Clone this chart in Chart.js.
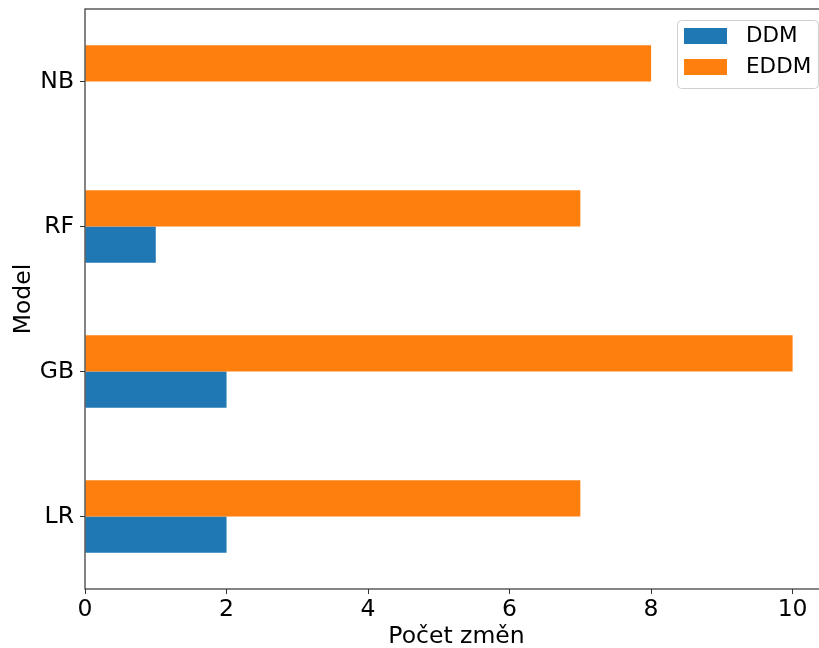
<!DOCTYPE html>
<html>
<head>
<meta charset="utf-8">
<script src="https://cdn.jsdelivr.net/npm/chart.js@4"></script>
<style>
  html, body { margin: 0; padding: 0; overflow: hidden; background: #fff; }
</style>
</head>
<body>
<canvas id="chart" width="840" height="648"></canvas>
<script>
// categories in pandas order (first one is drawn at the bottom)
const models = ["LR", "GB", "RF", "NB"];
const ddmCounts = [2, 2, 1, 0];
const eddmCounts = [7, 10, 7, 8];
const xTicks = [0, 2, 4, 6, 8, 10];

const FONT = "'DejaVu Sans', sans-serif";
const FSIZE = 23.5;

// draws the frame round the plot and the legend box inside it
const framePlugin = {
  id: "frame",
  afterDraw(chart) {
    const ctx = chart.ctx;
    const a = chart.chartArea;
    ctx.save();
    ctx.strokeStyle = "#333";
    ctx.lineWidth = 1.2;
    ctx.strokeRect(a.left, a.top, a.right - a.left, a.bottom - a.top);

    // legend
    const boxW = 141, boxH = 68;
    const bx = a.right - 10 - boxW, by = a.top + 11;
    ctx.fillStyle = "rgba(255,255,255,0.8)";
    ctx.strokeStyle = "#d0d0d0";
    ctx.lineWidth = 1;
    ctx.beginPath();
    ctx.roundRect(bx + 0.5, by + 0.5, boxW, boxH, 4);
    ctx.fill();
    ctx.stroke();
    ctx.font = "21.5px " + FONT;
    ctx.textBaseline = "middle";
    chart.data.datasets.forEach((ds, i) => {
      const y = by + 8 + i * 31;
      ctx.fillStyle = ds.backgroundColor;
      ctx.fillRect(bx + 7, y, 43, 16);
      ctx.fillStyle = "#000";
      ctx.fillText(ds.label, bx + 69, y + 8);
    });
    ctx.restore();
  }
};

new Chart(document.getElementById("chart"), {
  type: "bar",
  data: {
    labels: models,
    datasets: [
      { label: "DDM", data: ddmCounts, backgroundColor: "#1f77b4", order: 1 },
      { label: "EDDM", data: eddmCounts, backgroundColor: "#ff7f0e", order: 0 }
    ]
  },
  options: {
    indexAxis: "y",
    responsive: false,
    animation: false,
    categoryPercentage: 0.5,
    barPercentage: 1.0,
    layout: { padding: { top: 9, right: 12, left: 0, bottom: 0 } },
    plugins: {
      legend: { display: false },
      tooltip: { enabled: false }
    },
    scales: {
      x: {
        type: "linear",
        min: 0,
        max: 10.5,
        afterFit: s => { s.height = 59; s.paddingLeft = 0; s.paddingRight = 0; },
        afterBuildTicks: s => { s.ticks = xTicks.map(v => ({ value: v })); },
        ticks: { font: { family: FONT, size: FSIZE }, color: "#000", padding: 2, includeBounds: false },
        grid: { display: true, drawOnChartArea: false, drawTicks: true, tickLength: 5, color: "#333" },
        border: { display: false },
        title: {
          display: true,
          text: "Počet změn",
          font: { family: FONT, size: FSIZE },
          color: "#000",
          padding: { top: 0, bottom: -3 }
        }
      },
      y: {
        reverse: true,
        afterFit: s => { s.width = 85; s.paddingTop = 0; s.paddingBottom = 0; },
        ticks: { font: { family: FONT, size: FSIZE }, color: "#000", padding: 6 },
        grid: { display: true, offset: false, drawOnChartArea: false, drawTicks: true, tickLength: 5, color: "#333" },
        border: { display: false },
        title: {
          display: true,
          text: "Model",
          font: { family: FONT, size: FSIZE },
          color: "#000",
          padding: { top: 10, bottom: 0 }
        }
      }
    }
  },
  plugins: [framePlugin]
});
</script>
</body>
</html>
